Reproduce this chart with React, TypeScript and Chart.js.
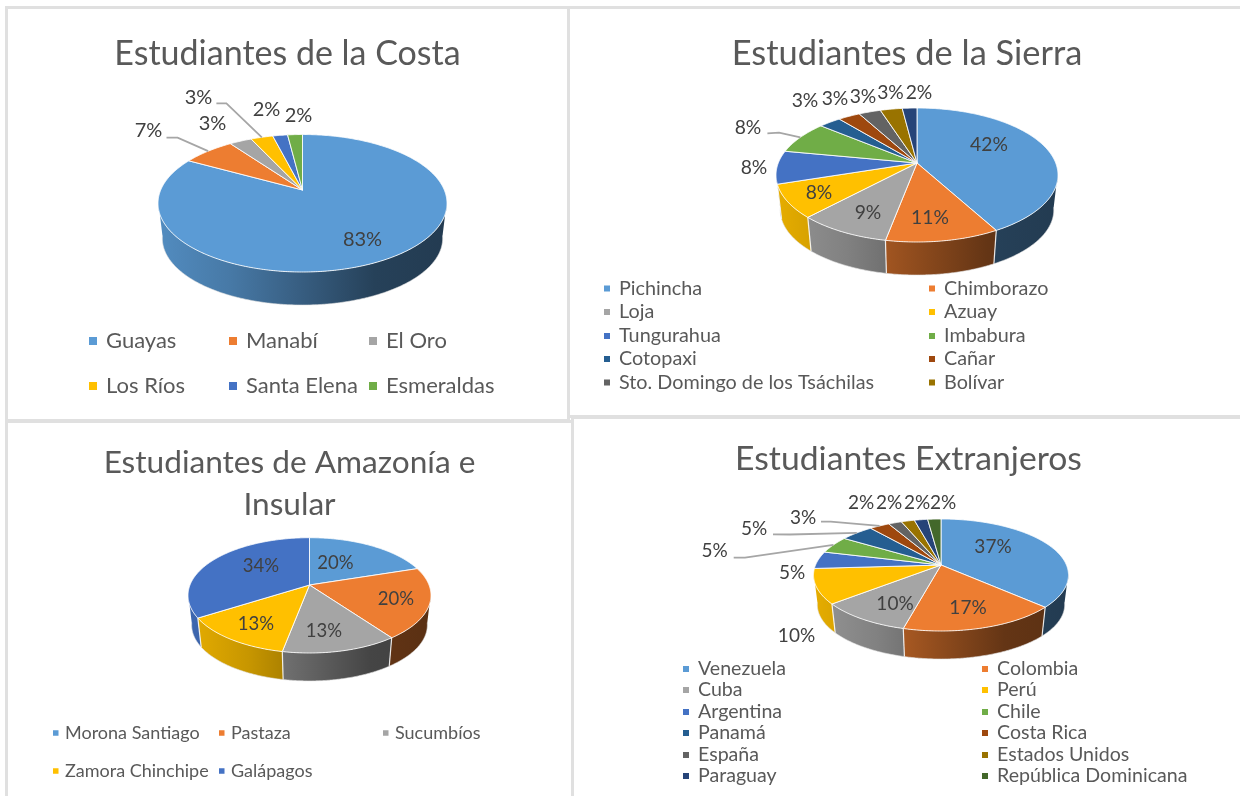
import React, { useEffect, useRef } from "react";
import { Chart, registerables } from "chart.js";

Chart.register(...registerables);

// ---------- data ----------
const officeColors = ["#5B9BD5", "#ED7D31", "#A5A5A5", "#FFC000", "#4472C4", "#70AD47", "#255E91", "#9E480E", "#636363", "#997300", "#264478", "#43682B"];

const costaLabels = ["Guayas", "Manabí", "El Oro", "Los Ríos", "Santa Elena", "Esmeraldas"];
const costaValues = [83, 7, 3, 3, 2, 2];

const sierraLabels = ["Pichincha", "Chimborazo", "Loja", "Azuay", "Tungurahua", "Imbabura", "Cotopaxi", "Cañar", "Sto. Domingo de los Tsáchilas", "Bolívar", ""];
const sierraValues = [42, 11, 9, 8, 8, 8, 3, 3, 3, 3, 2];

const amazoniaLabels = ["Morona Santiago", "Pastaza", "Sucumbíos", "Zamora Chinchipe", "Galápagos"];
const amazoniaValues = [20, 20, 13, 13, 34];

const extranjerosLabels = ["Venezuela", "Colombia", "Cuba", "Perú", "Argentina", "Chile", "Panamá", "Costa Rica", "España", "Estados Unidos", "Paraguay", "República Dominicana"];
const extranjerosValues = [37, 17, 10, 10, 5, 5, 5, 3, 2, 2, 2, 2];

// ---------- layout ----------
type Pt = [number, number];
type Cfg = {
  box: [number, number, number, number];
  title: string | string[];
  titleTop: number;
  titleSize: number;
  labels: string[];
  values: number[];
  pie: { cx: number; ay: number; rx: number; far: number; near: number; dy: number };
  labelPos: Pt[];
  leaders: Record<number, Pt[]>;
  labelSize: number;
  legend: { cols: number[]; rows: number[]; size: number; sq: number; off: number };
};

const configs: Cfg[] = [
  {
    box: [5, 6, 565, 416],
    title: "Estudiantes de la Costa",
    titleTop: 27,
    titleSize: 34,
    labels: costaLabels,
    values: costaValues,
    pie: { cx: 302.5, ay: 190, rx: 144.5, far: 55.5, near: 82, dy: 35.5 },
    labelPos: [[362.5, 240], [148.5, 131], [212.5, 124], [198.5, 98], [266.5, 110], [298.5, 116]],
    leaders: {
      1: [[166.5, 137.7], [177.6, 137.7]],
      3: [[216.4, 103.3], [226.4, 103.3]],
    },
    labelSize: 20,
    legend: { cols: [106, 246, 386], rows: [341, 386], size: 22, sq: 8, off: 17 },
  },
  {
    box: [567, 6, 680, 412],
    title: "Estudiantes de la Sierra",
    titleTop: 27,
    titleSize: 34.4,
    labels: sierraLabels,
    values: sierraValues,
    pie: { cx: 917, ay: 163, rx: 141, far: 55, near: 79, dy: 35.4 },
    labelPos: [[989, 145], [930, 218], [868, 213], [819, 193], [754, 168], [748, 128], [805, 101], [835, 99], [863, 97], [890.5, 92.5], [919, 92.5]],
    leaders: {
      5: [[767.4, 133.3], [779, 132.7]],
    },
    labelSize: 19.3,
    legend: { cols: [619, 944], rows: [288.5, 312, 336, 359, 382.5], size: 19.8, sq: 6, off: 15 },
  },
  {
    box: [5, 420, 569, 381],
    title: ["Estudiantes de Amazonía e", "Insular"],
    titleTop: 22,
    titleSize: 31.6,
    labels: amazoniaLabels,
    values: amazoniaValues,
    pie: { cx: 309.5, ay: 585, rx: 121.5, far: 47.3, near: 68, dy: 30 },
    labelPos: [[335.5, 563], [396, 599], [324, 631], [256, 624], [261, 566]],
    leaders: {},
    labelSize: 18.5,
    legend: { cols: [65, 231, 395], rows: [733, 771], size: 18, sq: 5.5, off: 12 },
  },
  {
    box: [571, 416, 675, 385],
    title: "Estudiantes Extranjeros",
    titleTop: 22,
    titleSize: 33.7,
    labels: extranjerosLabels,
    values: extranjerosValues,
    pie: { cx: 941, ay: 565, rx: 127.5, far: 46, near: 66, dy: 30 },
    labelPos: [[993, 547], [968, 608], [895, 604], [796.5, 636], [792, 573], [714.5, 551], [754, 529], [803, 518], [861, 503], [889, 503], [917, 503], [943, 503]],
    leaders: {
      5: [[733.7, 557.7], [745, 557.7]],
      6: [[773, 534.3], [790, 534.5]],
      7: [[821, 521.7], [830.7, 521.7]],
    },
    labelSize: 19,
    legend: { cols: [698, 997], rows: [669, 690, 712, 733, 755, 776], size: 19.6, sq: 6, off: 15 },
  },
];

const FONT = "Lato, 'Open Sans', sans-serif";
const TEXT = "#595959";
const DEPTH_SCALE = 0.97;

function shade(hex: string, f: number) {
  const n = parseInt(hex.slice(1), 16);
  const c = (v: number) => Math.round(v * f);
  return `rgb(${c((n >> 16) & 255)},${c((n >> 8) & 255)},${c(n & 255)})`;
}

const piePlugin = {
  id: "pie3d",
  beforeDatasetsDraw(chart: any, _args: any, opts: any) {
    const cfg: Cfg = opts.cfg;
    const { ctx } = chart;
    const meta = chart.getDatasetMeta(0);
    const colors: string[] = chart.data.datasets[0].backgroundColor;
    const { cx, ay, rx, far, near, dy } = cfg.pie;
    const s = (2 * far * near) / (far + near);
    const k = s / far - 1;
    const R = rx * Math.sqrt(1 - k * k);
    const proj = (a: number, r = 1): Pt => {
      const den = 1 - k * r * Math.sin(a);
      return [(R * r * Math.cos(a)) / den, (s * r * Math.sin(a)) / den];
    };
    const up = (a: number, r = 1): Pt => {
      const p = proj(a, r);
      return [cx + p[0], ay + p[1]];
    };
    const low = (a: number): Pt => {
      const p = proj(a);
      return [cx + DEPTH_SCALE * p[0], ay + dy + DEPTH_SCALE * p[1]];
    };
    const samples = (a0: number, a1: number) => {
      const n = Math.max(2, Math.ceil((a1 - a0) / 0.01));
      return Array.from({ length: n + 1 }, (_, i) => a0 + ((a1 - a0) * i) / n);
    };

    ctx.save();
    ctx.translate(-cfg.box[0], -cfg.box[1]);

    // side walls
    const vis0 = Math.asin(k) - 0.04;
    const vis1 = Math.PI - vis0;
    const stops: [number, number][] = [[0, 0.9], [0.25, 0.78], [0.5, 0.6], [0.75, 0.42], [1, 0.38]];
    const boundaries: number[] = [];
    meta.data.forEach((el: any, i: number) => {
      const a0 = Math.max(el.startAngle, vis0);
      const a1 = Math.min(el.endAngle, vis1);
      if (el.startAngle > vis0 && el.startAngle < vis1) boundaries.push(el.startAngle);
      if (a1 <= a0) return;
      const g = ctx.createLinearGradient(cx - rx, 0, cx + rx, 0);
      stops.forEach(([p, f]) => g.addColorStop(p, shade(colors[i], f)));
      const angs = samples(a0, a1);
      ctx.beginPath();
      angs.forEach((a, j) => {
        const p = up(a);
        j ? ctx.lineTo(p[0], p[1]) : ctx.moveTo(p[0], p[1]);
      });
      [...angs].reverse().forEach((a) => {
        const p = low(a);
        ctx.lineTo(p[0], p[1]);
      });
      ctx.closePath();
      ctx.fillStyle = g;
      ctx.fill();
    });
    ctx.strokeStyle = "rgba(255,255,255,0.85)";
    ctx.lineWidth = 1.2;
    boundaries.forEach((a) => {
      const p = up(a);
      const q = low(a);
      ctx.beginPath();
      ctx.moveTo(p[0], p[1]);
      ctx.lineTo(q[0], q[1]);
      ctx.stroke();
    });
    // faint rim below the walls
    ctx.strokeStyle = "rgba(225,225,225,0.6)";
    ctx.lineWidth = 1;
    ctx.beginPath();
    samples(vis0, vis1).forEach((a, j) => {
      const p = low(a);
      j ? ctx.lineTo(p[0], p[1]) : ctx.moveTo(p[0], p[1]);
    });
    ctx.stroke();

    // top face
    meta.data.forEach((el: any, i: number) => {
      ctx.beginPath();
      ctx.moveTo(cx, ay);
      samples(el.startAngle, el.endAngle).forEach((a) => {
        const p = up(a);
        ctx.lineTo(p[0], p[1]);
      });
      ctx.closePath();
      ctx.fillStyle = colors[i];
      ctx.fill();
      ctx.strokeStyle = "rgba(255,255,255,0.85)";
      ctx.lineWidth = 1;
      ctx.stroke();
    });

    // leader lines
    ctx.strokeStyle = "#a6a6a6";
    ctx.lineWidth = 1.8;
    Object.keys(cfg.leaders).forEach((key) => {
      const i = Number(key);
      const el = meta.data[i];
      const end = up((el.startAngle + el.endAngle) / 2, 1);
      const pts = cfg.leaders[i];
      ctx.beginPath();
      ctx.moveTo(pts[0][0], pts[0][1]);
      pts.slice(1).forEach((p) => ctx.lineTo(p[0], p[1]));
      ctx.lineTo(end[0], end[1]);
      ctx.stroke();
    });

    // data labels
    const values: number[] = chart.data.datasets[0].data;
    const total = values.reduce((a, b) => a + b, 0);
    ctx.fillStyle = "#404040";
    ctx.font = `${cfg.labelSize}px ${FONT}`;
    ctx.textAlign = "center";
    ctx.textBaseline = "middle";
    values.forEach((v, i) => {
      const p = cfg.labelPos[i];
      ctx.fillText(`${Math.round((v / total) * 100)}%`, p[0], p[1]);
    });

    // legend
    const lg = cfg.legend;
    ctx.font = `${lg.size}px ${FONT}`;
    ctx.textAlign = "left";
    (chart.data.labels as string[]).forEach((label, i) => {
      if (!label) return;
      const col = lg.cols[i % lg.cols.length];
      const row = lg.rows[Math.floor(i / lg.cols.length)];
      ctx.fillStyle = colors[i];
      ctx.fillRect(col - lg.off, row - lg.sq / 2, lg.sq, lg.sq);
      ctx.fillStyle = TEXT;
      ctx.fillText(label, col, row);
    });

    ctx.restore();
    return false;
  },
};

function Panel({ cfg }: { cfg: Cfg }) {
  const ref = useRef<HTMLCanvasElement | null>(null);
  useEffect(() => {
    const chart = new Chart(ref.current as HTMLCanvasElement, {
      type: "pie",
      data: {
        labels: cfg.labels,
        datasets: [{ data: cfg.values, backgroundColor: officeColors.slice(0, cfg.values.length), borderWidth: 0 }],
      },
      options: {
        animation: false,
        responsive: false,
        events: [],
        plugins: {
          legend: { display: false },
          tooltip: { enabled: false },
          title: {
            display: true,
            text: cfg.title,
            color: TEXT,
            font: { family: FONT, size: cfg.titleSize, weight: "normal", lineHeight: 42 / cfg.titleSize },
            padding: { top: cfg.titleTop, bottom: 4 },
          },
          pie3d: { cfg },
        } as any,
      },
      plugins: [piePlugin as any],
    });
    return () => chart.destroy();
  }, [cfg]);
  const [x, y, w, h] = cfg.box;
  return (
    <>
      <div style={{ position: "absolute", left: x, top: y, width: w, height: h, boxSizing: "border-box", border: "3px solid #e0e0e0", background: "#fff" }} />
      <canvas ref={ref} width={w} height={h} style={{ position: "absolute", left: x, top: y, width: w, height: h, filter: "blur(0.35px)" }} />
    </>
  );
}

export default function App() {
  return (
    <div style={{ position: "absolute", left: 0, top: 0, width: 1240, height: 796, overflow: "hidden", background: "#fff" }}>
      {configs.map((c, i) => (
        <Panel key={i} cfg={c} />
      ))}
    </div>
  );
}
